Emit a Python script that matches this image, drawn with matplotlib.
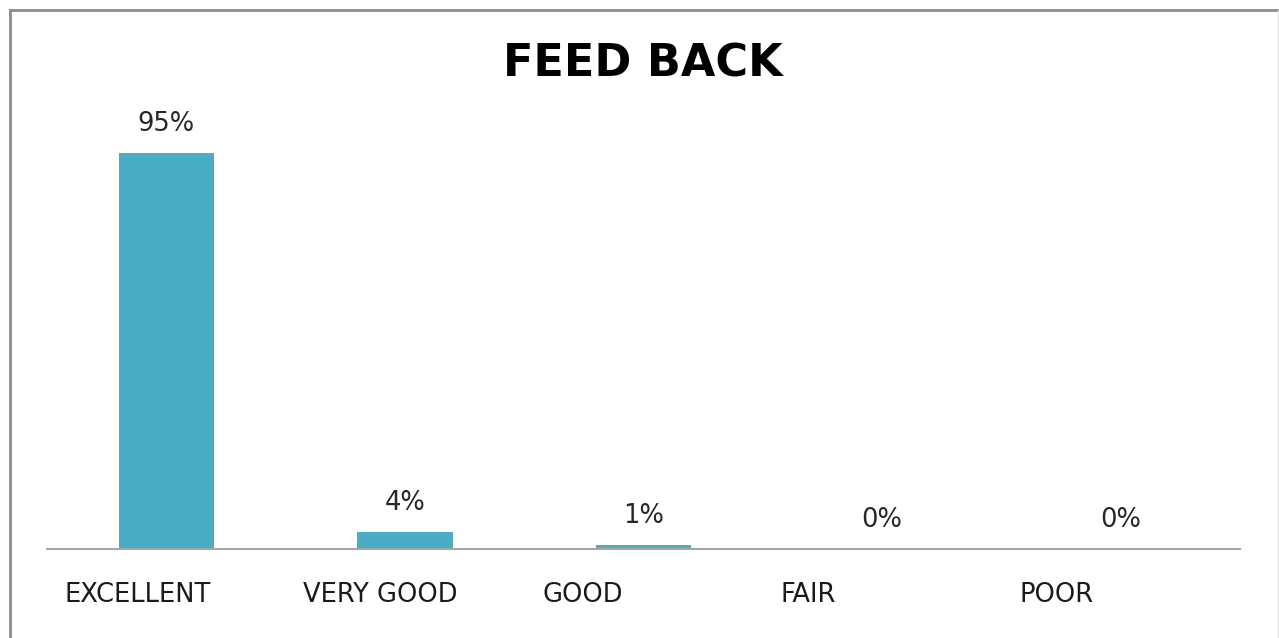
import matplotlib
matplotlib.use("Agg")
import matplotlib.pyplot as plt
from matplotlib.lines import Line2D
import matplotlib.transforms as mtransforms

categories = ["EXCELLENT", "VERY GOOD", "GOOD", "FAIR", "POOR"]
values = [95, 4, 1, 0, 0]
value_labels = ["95%", "4%", "1%", "0%", "0%"]
title = "FEED BACK"

plt.rcParams['font.family'] = ['DejaVu Sans']

W, H = 1279, 638
fig = plt.figure(figsize=(W / 100, H / 100), dpi=100)
fig.patch.set_facecolor("white")

# outer border (top/left darker, right faint)
top_y = 1 - 10 / H
left_x = 9.5 / W
right_x = 1277.5 / W
fig.add_artist(Line2D([left_x, right_x], [top_y, top_y], transform=fig.transFigure,
                      color="#8c8c8c", linewidth=2.0))
fig.add_artist(Line2D([left_x, left_x], [0, top_y], transform=fig.transFigure,
                      color="#8c8c8c", linewidth=2.0))
fig.add_artist(Line2D([right_x, right_x], [0, top_y], transform=fig.transFigure,
                      color="#e0e0e0", linewidth=1.0))

ax = fig.add_axes([47 / W, (H - 549) / H, (1240 - 47) / W, 417 / H])
x = list(range(len(categories)))
ax.bar(x, values, width=0.40, color="#4BACC6", zorder=2)
ax.set_xlim(-0.5, len(categories) - 0.5)
ax.set_ylim(0, 100)

for s in ["top", "right", "left"]:
    ax.spines[s].set_visible(False)
ax.spines["bottom"].set_color("#a6a6a6")
ax.spines["bottom"].set_linewidth(1.5)
ax.set_yticks([])
ax.set_xticks([])

offset = mtransforms.offset_copy(ax.transData, fig=fig, x=0, y=29 / 100 * 72, units="points")
for xi, v, lab in zip(x, values, value_labels):
    ax.text(xi, v, lab, transform=offset, ha="center", va="center",
            fontsize=18.5, color="#262626")

trans = mtransforms.blended_transform_factory(ax.transData, ax.transAxes)
for xi, cat in zip(x, categories):
    ax.text(xi - 0.5 + 0.075, -46 / 417, cat, transform=trans, ha="left",
            va="center", fontsize=18.5, color="#1a1a1a")

fig.text(643 / W, 1 - 64 / H, title, ha="center", va="center",
         fontsize=32, fontweight="bold", color="black")

fig.savefig("out.png", dpi=100)
